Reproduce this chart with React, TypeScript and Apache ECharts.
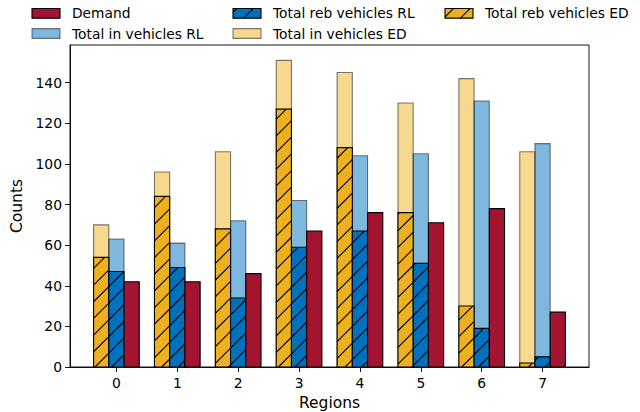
import React, { useEffect, useRef } from "react";
import * as echarts from "echarts";

const regions = [0, 1, 2, 3, 4, 5, 6, 7];
const demand = [42, 42, 46, 67, 76, 71, 78, 27];
const totalInRL = [63, 61, 72, 82, 104, 105, 131, 110];
const totalRebRL = [47, 49, 34, 59, 67, 51, 19, 5];
const totalInED = [70, 96, 106, 151, 145, 130, 142, 106];
const totalRebED = [54, 84, 68, 127, 108, 76, 30, 2];
const yTicks = [0, 20, 40, 60, 80, 100, 120, 140];

const RED = "#A2142F";
const BLUE = "#0072BD";
const ORANGE = "#EDB120";
const LIGHT_BLUE = "rgba(0,114,189,0.5)";
const LIGHT_ORANGE = "rgba(237,177,32,0.5)";
const GRAY_EDGE = "rgba(0,0,0,0.5)";
const FONT = "DejaVu Sans";
const HATCH = 16.67;
const BAR_W = 0.25;

function hatchLines(x0: number, y0: number, x1: number, y1: number) {
  const segs: any[] = [];
  const cmin = x0 + y0;
  const cmax = x1 + y1;
  let c = Math.ceil((cmin - 412) / HATCH) * HATCH + 412;
  for (; c <= cmax; c += HATCH) {
    const xa = Math.max(x0, c - y1);
    const xb = Math.min(x1, c - y0);
    if (xb - xa > 0.3) {
      segs.push({
        type: "line",
        shape: { x1: xa, y1: c - xa, x2: xb, y2: c - xb },
        style: { stroke: "#000", lineWidth: 1.1 },
        silent: true,
      });
    }
  }
  return segs;
}

function makeSeries(name: string, offset: number, values: number[], fill: string, edge: string, hatched: boolean) {
  return {
    type: "custom",
    name,
    clip: false,
    data: values.map((v, i) => [regions[i] + offset, v]),
    encode: { x: 0, y: 1 },
    renderItem: (params: any, api: any) => {
      const xv = api.value(0);
      const yv = api.value(1);
      const p0 = api.coord([xv, 0]);
      const p1 = api.coord([xv, yv]);
      const w = api.size([BAR_W, 0])[0];
      const x0 = p0[0] - w / 2;
      const x1 = p0[0] + w / 2;
      const yTop = p1[1];
      const yBot = p0[1];
      const children: any[] = [
        {
          type: "rect",
          shape: { x: x0, y: yTop, width: w, height: yBot - yTop },
          style: { fill, stroke: null },
        },
      ];
      if (hatched) children.push(...hatchLines(x0, yTop, x1, yBot));
      children.push({
        type: "rect",
        shape: { x: x0, y: yTop, width: w, height: yBot - yTop },
        style: { fill: "none", stroke: edge, lineWidth: 1.1 },
      });
      return { type: "group", children };
    },
  };
}

function legendItem(px: number, cy: number, label: string, fill: string, edge: string, hatched: boolean) {
  const w = 28;
  const h = 9.7;
  const y0 = cy - h / 2;
  const children: any[] = [
    { type: "rect", shape: { x: px, y: y0, width: w, height: h }, style: { fill, stroke: null } },
  ];
  if (hatched) children.push(...hatchLines(px, y0, px + w, y0 + h));
  children.push({
    type: "rect",
    shape: { x: px, y: y0, width: w, height: h },
    style: { fill: "none", stroke: edge, lineWidth: 1.1 },
  });
  children.push({
    type: "text",
    x: px + 40,
    y: cy,
    style: { text: label, fill: "#000", font: `13.8px '${FONT}'`, textVerticalAlign: "middle", textAlign: "left" },
  });
  return { type: "group", children };
}

export default function App() {
  const ref = useRef<HTMLDivElement>(null);
  useEffect(() => {
    if (!ref.current) return;
    const chart = echarts.init(ref.current, null, { renderer: "svg" });
    const r1 = 13.3;
    const r2 = 33.5;
    chart.setOption({
      animation: false,
      backgroundColor: "#fff",
      textStyle: { fontFamily: FONT },
      grid: {
        left: 70,
        right: 51,
        top: 45,
        bottom: 45,
        outerBoundsMode: "none",
        containLabel: false,
        show: true,
        borderColor: "#000",
        borderWidth: 0.9,
        backgroundColor: "transparent",
      },
      xAxis: {
        type: "value",
        min: -0.7625,
        max: 7.7625,
        name: "Regions",
        nameLocation: "middle",
        nameGap: 27,
        nameTextStyle: { fontSize: 15.5, color: "#000", fontFamily: FONT },
        axisLine: { show: true, onZero: false, lineStyle: { color: "#000", width: 0.9 } },
        axisTick: { show: true, length: 5, lineStyle: { color: "#000", width: 0.9 }, customValues: regions },
        axisLabel: { color: "#000", fontSize: 13.9, fontFamily: FONT, margin: 9, customValues: regions },
        splitLine: { show: false },
      },
      yAxis: {
        type: "value",
        min: 0,
        max: 158.55,
        name: "Counts",
        nameLocation: "middle",
        nameGap: 44,
        nameRotate: 90,
        nameTextStyle: { fontSize: 15.5, color: "#000", fontFamily: FONT },
        axisLine: { show: true, onZero: false, lineStyle: { color: "#000", width: 0.9 } },
        axisTick: { show: true, length: 5, lineStyle: { color: "#000", width: 0.9 }, customValues: yTicks },
        axisLabel: { color: "#000", fontSize: 13.9, fontFamily: FONT, margin: 8, customValues: yTicks },
        splitLine: { show: false },
      },
      series: [
        makeSeries("Total in vehicles ED", -0.25, totalInED, LIGHT_ORANGE, GRAY_EDGE, false),
        makeSeries("Total in vehicles RL", 0, totalInRL, LIGHT_BLUE, GRAY_EDGE, false),
        makeSeries("Total reb vehicles ED", -0.25, totalRebED, ORANGE, "#000", true),
        makeSeries("Total reb vehicles RL", 0, totalRebRL, BLUE, "#000", true),
        makeSeries("Demand", 0.25, demand, RED, "#000", false),
      ],
      graphic: [
        legendItem(32, r1, "Demand", RED, "#000", false),
        legendItem(32, r2, "Total in vehicles RL", LIGHT_BLUE, GRAY_EDGE, false),
        legendItem(233, r1, "Total reb vehicles RL", BLUE, "#000", true),
        legendItem(233, r2, "Total in vehicles ED", LIGHT_ORANGE, GRAY_EDGE, false),
        legendItem(445, r1, "Total reb vehicles ED", ORANGE, "#000", true),
      ],
    });
    return () => chart.dispose();
  }, []);
  return <div ref={ref} style={{ position: "absolute", left: 0, top: 0, width: 640, height: 412 }} />;
}
